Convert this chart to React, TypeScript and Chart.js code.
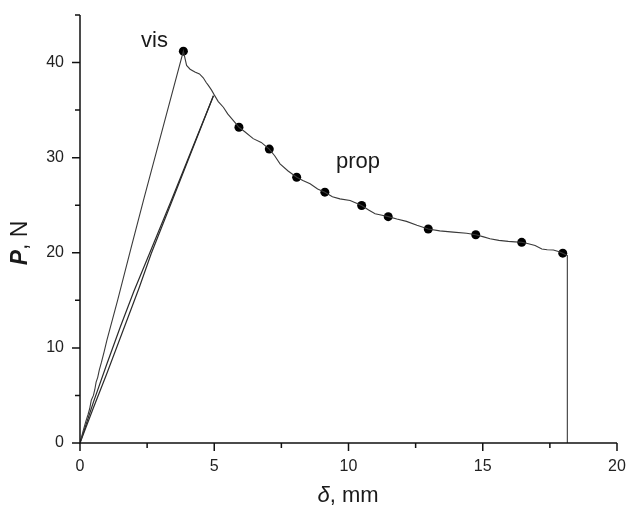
import React, { useEffect, useRef } from "react";
import { Chart, registerables } from "chart.js";

Chart.register(...registerables);

// "vis" curve: loading line, softening branch, and final drop
const visX = [0, 0.12, 0.22, 0.3, 0.36, 0.42, 0.5, 0.55, 0.6, 0.66, 0.72, 0.8, 0.9, 1.0, 1.4, 1.9, 2.4, 3.1, 3.85,
  3.97, 4.1, 4.28, 4.45, 4.59, 4.7, 4.78, 4.9, 5.0, 5.15, 5.34, 5.5, 5.65, 5.8, 5.92, 6.15, 6.45, 6.75, 7.05,
  7.25, 7.45, 7.75, 8.07, 8.3, 8.57, 8.85, 9.12, 9.4, 9.68, 10.06, 10.3, 10.49, 10.75, 10.99, 11.25, 11.48, 11.8,
  12.16, 12.55, 12.97, 13.4, 13.9, 14.4, 14.74, 15.0, 15.27, 15.6, 15.95, 16.2, 16.45, 16.7, 16.95, 17.2, 17.4,
  17.63, 17.85, 17.98, 18.15, 18.15];
const visY = [0, 1.3, 2.3, 3.0, 3.6, 4.5, 5.0, 5.6, 6.4, 6.9, 7.7, 8.5, 9.6, 10.8, 15.0, 20.5, 25.9, 33.3, 41.2,
  39.7, 39.3, 39.0, 38.8, 38.4, 37.9, 37.6, 37.1, 36.6, 35.9, 35.3, 34.6, 34.1, 33.6, 33.2, 32.7, 32.0, 31.6, 30.9,
  30.2, 29.35, 28.6, 27.94, 27.6, 27.25, 26.7, 26.37, 25.9, 25.67, 25.5, 25.2, 24.97, 24.5, 24.1, 23.95, 23.8, 23.55,
  23.3, 22.9, 22.5, 22.3, 22.17, 22.06, 21.9, 21.7, 21.47, 21.3, 21.2, 21.15, 21.1, 20.95, 20.77, 20.4, 20.32,
  20.3, 20.1, 19.96, 19.7, 0];

// "prop" loading lines (two specimens)
const propAX = [0, 0.5, 1.0, 1.5, 2.0, 2.6, 3.4, 4.97];
const propAY = [0, 4.3, 8.3, 12.2, 15.9, 20.0, 25.5, 36.5];
const propBX = [0, 0.5, 1.0, 1.6, 2.2, 2.65, 3.42, 4.97];
const propBY = [0, 3.7, 7.3, 11.8, 16.3, 19.9, 25.4, 36.5];

// marker points
const dotX = [3.85, 5.92, 7.05, 8.07, 9.12, 10.49, 11.48, 12.97, 14.74, 16.45, 17.98];
const dotY = [41.2, 33.2, 30.9, 27.94, 26.37, 24.97, 23.8, 22.5, 21.9, 21.1, 19.96];

// axes
const xMajor = [0, 5, 10, 15, 20];
const xMinor = [2.5, 7.5, 12.5, 17.5];
const yMajor = [0, 10, 20, 30, 40];
const yMinor = [5, 15, 25, 35, 45];

const FONT = "'Liberation Sans', Arial, Helvetica, sans-serif";

const decor = {
  id: "decor",
  afterDraw(chart: any) {
    const { ctx, chartArea, scales } = chart;
    const xs = scales.x;
    const ys = scales.y;
    ctx.save();
    ctx.strokeStyle = "#111";
    ctx.lineWidth = 1.5;
    ctx.beginPath();
    ctx.moveTo(chartArea.left, chartArea.top);
    ctx.lineTo(chartArea.left, chartArea.bottom);
    ctx.lineTo(chartArea.right, chartArea.bottom);
    ctx.stroke();
    ctx.beginPath();
    xMajor.forEach((v) => {
      const p = xs.getPixelForValue(v);
      ctx.moveTo(p, chartArea.bottom);
      ctx.lineTo(p, chartArea.bottom + 8);
    });
    xMinor.forEach((v) => {
      const p = xs.getPixelForValue(v);
      ctx.moveTo(p, chartArea.bottom);
      ctx.lineTo(p, chartArea.bottom + 5);
    });
    yMajor.forEach((v) => {
      const p = ys.getPixelForValue(v);
      ctx.moveTo(chartArea.left, p);
      ctx.lineTo(chartArea.left - 8, p);
    });
    yMinor.forEach((v) => {
      const p = ys.getPixelForValue(v);
      ctx.moveTo(chartArea.left, p);
      ctx.lineTo(chartArea.left - 5, p);
    });
    ctx.stroke();

    ctx.fillStyle = "#1a1a1a";
    ctx.textBaseline = "alphabetic";
    ctx.font = `22px ${FONT}`;
    ctx.textAlign = "left";
    ctx.fillText("vis", 141, 47);
    ctx.fillText("prop", 336, 168);

    const xt1 = "δ";
    const xt2 = ", mm";
    ctx.font = `italic 22px ${FONT}`;
    const w1 = ctx.measureText(xt1).width;
    ctx.font = `22px ${FONT}`;
    const w2 = ctx.measureText(xt2).width;
    const sx = 348 - (w1 + w2) / 2;
    ctx.font = `italic 22px ${FONT}`;
    ctx.fillText(xt1, sx, 502);
    ctx.font = `22px ${FONT}`;
    ctx.fillText(xt2, sx + w1, 502);

    ctx.translate(27, 243);
    ctx.rotate(-Math.PI / 2);
    const yt1 = "P";
    const yt2 = ", N";
    ctx.font = `italic bold 23px ${FONT}`;
    const v1 = ctx.measureText(yt1).width;
    ctx.font = `23px ${FONT}`;
    const v2 = ctx.measureText(yt2).width;
    const sy = -(v1 + v2) / 2;
    ctx.font = `italic bold 23px ${FONT}`;
    ctx.fillText(yt1, sy, 0);
    ctx.font = `23px ${FONT}`;
    ctx.fillText(yt2, sy + v1, 0);
    ctx.restore();
  },
};

export default function App() {
  const ref = useRef<HTMLCanvasElement>(null);
  useEffect(() => {
    const toPts = (xs: number[], ys: number[]) => xs.map((x, i) => ({ x, y: ys[i] }));
    const chart = new Chart(ref.current as HTMLCanvasElement, {
      type: "scatter",
      data: {
        datasets: [
          { data: toPts(visX, visY), showLine: true, borderColor: "#3a3a3a", borderWidth: 1.1, pointRadius: 0, tension: 0 } as any,
          { data: toPts(propAX, propAY), showLine: true, borderColor: "#2a2a2a", borderWidth: 1.2, pointRadius: 0, tension: 0 } as any,
          { data: toPts(propBX, propBY), showLine: true, borderColor: "#2a2a2a", borderWidth: 1.2, pointRadius: 0, tension: 0 } as any,
          { data: toPts(dotX, dotY), showLine: false, pointRadius: 4.5, backgroundColor: "#000", borderColor: "#000", borderWidth: 0 } as any,
        ],
      },
      options: {
        responsive: false,
        animation: false,
        events: [],
        layout: { padding: { top: 15, right: 12, left: 0, bottom: 0 } },
        plugins: { legend: { display: false }, tooltip: { enabled: false } },
        scales: {
          x: {
            type: "linear",
            min: 0,
            max: 20,
            afterBuildTicks: (s: any) => { s.ticks = xMajor.map((v) => ({ value: v })); },
            afterFit: (s: any) => { s.height = 66; s.paddingLeft = 0; s.paddingRight = 0; s.paddingTop = 0; s.paddingBottom = 0; },
            grid: { display: false, drawTicks: false },
            border: { display: false },
            ticks: { font: { family: FONT, size: 16 }, color: "#222", padding: 14, maxRotation: 0, autoSkip: false },
          },
          y: {
            type: "linear",
            min: 0,
            max: 45,
            afterBuildTicks: (s: any) => { s.ticks = yMajor.map((v) => ({ value: v })); },
            afterFit: (s: any) => { s.width = 80; s.paddingLeft = 0; s.paddingRight = 0; s.paddingTop = 0; s.paddingBottom = 0; },
            grid: { display: false, drawTicks: false },
            border: { display: false },
            ticks: { font: { family: FONT, size: 16 }, color: "#222", padding: 16, autoSkip: false },
          },
        },
      },
      plugins: [decor],
    });
    return () => chart.destroy();
  }, []);
  return (
    <div style={{ position: "fixed", left: 0, top: 0, width: 629, height: 509, background: "#fff" }}>
      <canvas ref={ref} width={629} height={509} style={{ display: "block", width: 629, height: 509 }} />
    </div>
  );
}
